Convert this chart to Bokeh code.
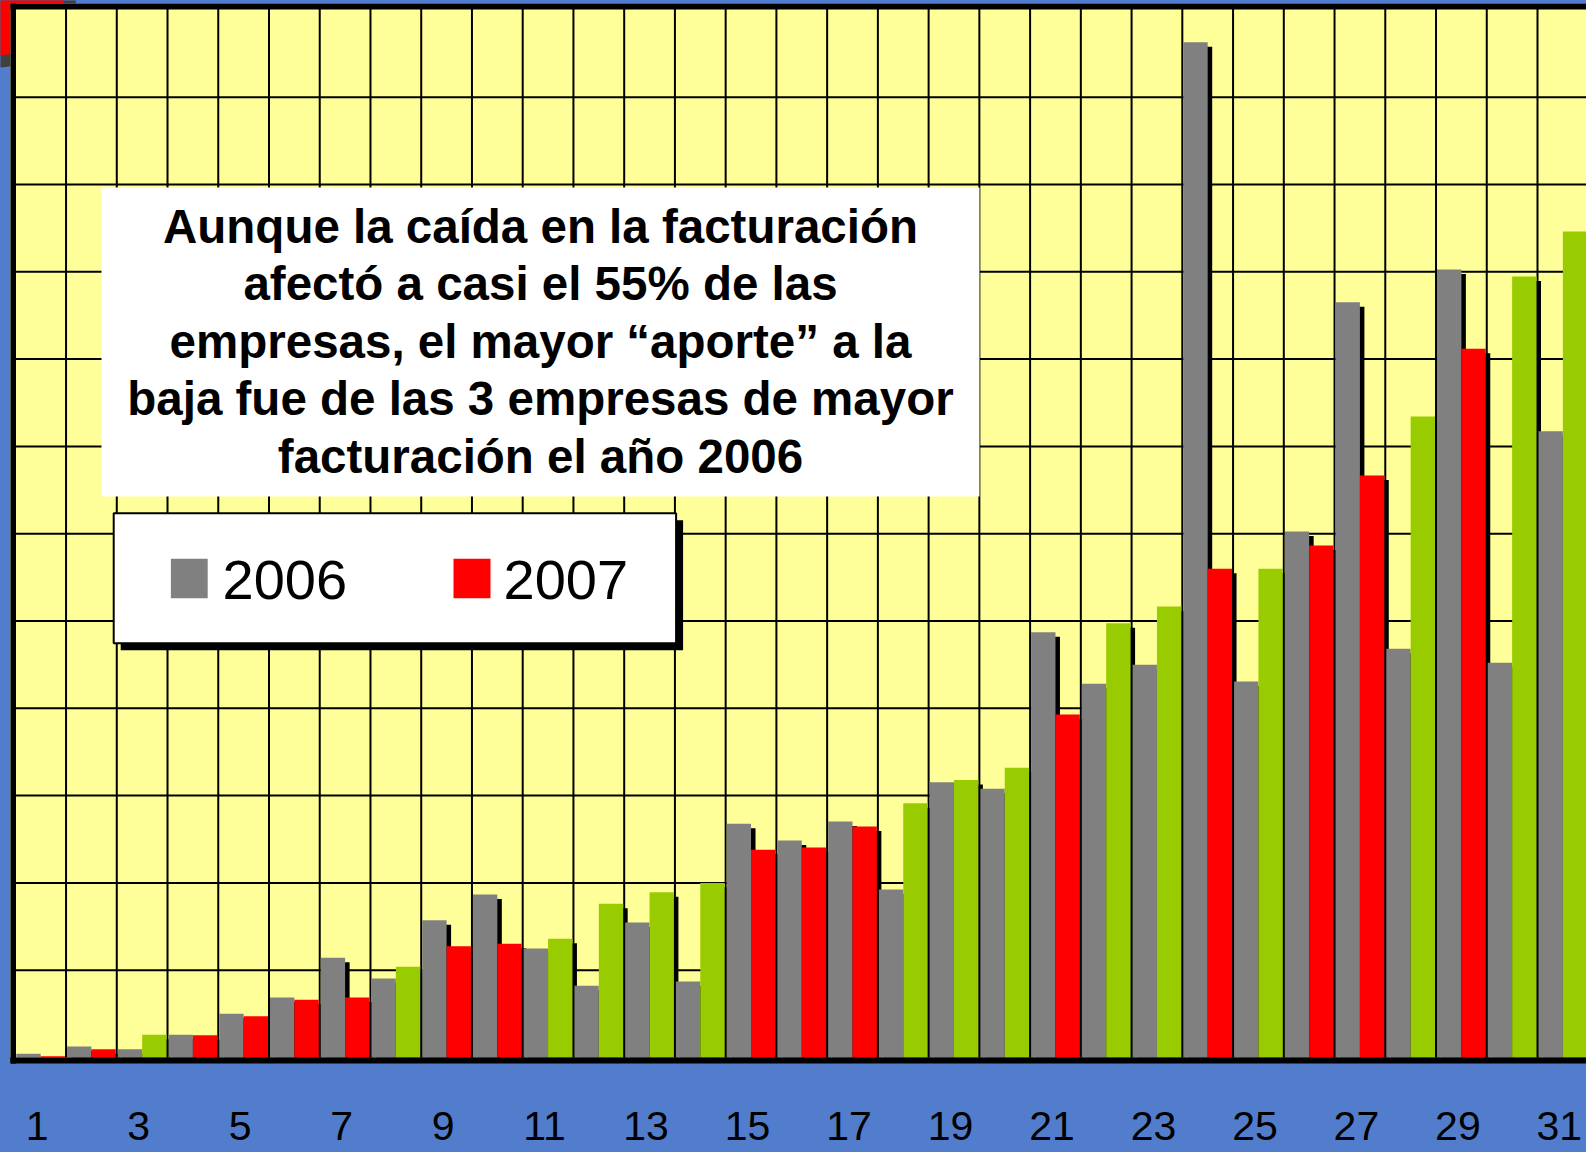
from bokeh.plotting import figure
from bokeh.models import Range1d
from bokeh.embed import file_html
from bokeh.resources import INLINE
from bokeh.core.properties import value

# ---------------- data ----------------
empresas = list(range(1, 32))
ventas_2006 = [0.42, 1.26, 0.95, 2.6, 5.0, 6.87, 11.42, 9.05, 15.73, 18.67, 12.49,
               8.21, 15.46, 8.7, 26.77, 24.86, 27.03, 19.24, 31.53, 30.78, 48.72,
               42.8, 44.98, 116.3, 43.07, 60.25, 86.52, 46.82, 90.26, 45.21, 71.74]
ventas_2007 = [0.15, 0.95, 2.6, 2.55, 4.73, 6.61, 6.87, 10.39, 12.75, 13.02, 13.6,
               17.6, 18.93, 20.0, 23.79, 24.05, 26.46, 29.13, 31.8, 33.18, 39.29,
               49.75, 51.66, 55.98, 55.98, 58.65, 66.67, 73.43, 81.18, 89.46, 94.62]
etiquetas_x = [str(k) for k in range(1, 32, 2)]
rejilla_y = list(range(10, 120, 10))
series = ["2006", "2007"]
titulo = ["Aunque la caída en la facturación",
          "afectó a casi el 55% de las",
          "empresas, el mayor “aporte” a la",
          "baja fue de las 3 empresas de mayor",
          "facturación el año 2006"]

# ---------------- style ----------------
BLUE = "#527DCD"
YELLOW = "#FFFF99"
GRAY = "#808080"
RED = "#FF0000"
GREEN = "#99CC00"
FONT = value("Liberation Sans")
BASE_FIX = 0.37   # svg text baseline correction (em)

W, H = 1586, 1152
PX_X = 50.74      # px per category
X0_PX = 14.8      # px of x = 0.5
PX_Y = 8.73       # px per value unit
Y0_PX = 1057      # px of y = 0

x_start = 0.5 - X0_PX / PX_X
x_end = x_start + W / PX_X
y_top = Y0_PX / PX_Y
y_bottom = -(H - Y0_PX) / PX_Y


def fx(px):
    return x_start + px / PX_X


def fy(py):
    return (Y0_PX - py) / PX_Y


def fb(py, size):
    return fy(py - BASE_FIX * size)


p = figure(width=W, height=H, x_range=Range1d(x_start, x_end),
           y_range=Range1d(y_bottom, y_top), output_backend="svg",
           toolbar_location=None, min_border=0, x_axis_location=None,
           y_axis_location=None, background_fill_color=BLUE,
           border_fill_color=BLUE, outline_line_color=None)
p.grid.visible = False

# partially hidden logo at the top-left corner
p.scatter(x=[fx(-5)], y=[fy(-15)], size=164, marker="circle", fill_color="#404040", line_color=None)
p.scatter(x=[fx(-5)], y=[fy(-15)], size=140, marker="circle", fill_color="#FF0000", line_color=None)

# plot area
p.quad(left=fx(10), right=x_end, bottom=0, top=fy(3), fill_color=YELLOW, line_color=None)

# grid
vx = [k + 0.5 for k in empresas[:-1]]
p.segment(x0=vx, y0=[0] * len(vx), x1=vx, y1=[fy(6)] * len(vx), line_color="black", line_width=2)
p.segment(x0=[0.5] * len(rejilla_y), y0=rejilla_y, x1=[x_end] * len(rejilla_y), y1=rejilla_y,
          line_color="black", line_width=2)

# bars
gap = 1.0 / PX_X
dx = 4.5 / PX_X
dy = 4.5 / PX_Y
g_left = [k - 0.5 + gap for k in empresas]
g_right = [k for k in empresas]
c_left = [k for k in empresas]
c_right = [k + 0.5 - gap for k in empresas]
colores_2007 = [GREEN if b > a else RED for a, b in zip(ventas_2006, ventas_2007)]

# shadows
p.quad(left=[v + dx for v in g_left], right=[v + dx for v in g_right], bottom=0,
       top=[max(v - dy, 0) for v in ventas_2006], fill_color="black", line_color=None)
p.quad(left=[v + dx for v in c_left], right=[v + dx for v in c_right], bottom=0,
       top=[max(v - dy, 0) for v in ventas_2007], fill_color="black", line_color=None)

p.quad(left=g_left, right=g_right, bottom=0, top=ventas_2006, fill_color=GRAY, line_color=None)
p.quad(left=c_left, right=c_right, bottom=0, top=ventas_2007, fill_color=colores_2007, line_color=None)

# frame borders
p.quad(left=fx(10), right=fx(15.5), bottom=fy(1063), top=fy(3), fill_color="black", line_color=None)
p.quad(left=fx(10), right=x_end, bottom=fy(9), top=fy(3), fill_color="black", line_color=None)
p.quad(left=fx(10), right=x_end, bottom=fy(1063), top=0, fill_color="black", line_color=None)

# x labels
p.text(x=[int(t) for t in etiquetas_x], y=[fb(1141, 41)] * len(etiquetas_x), text=etiquetas_x,
       x_offset=-3.5, text_font=FONT, text_font_size="41px", text_align="center",
       text_baseline="alphabetic", text_color="black")

# title box
p.quad(left=fx(101), right=fx(979), top=fy(187), bottom=fy(496), fill_color="white", line_color=None)
p.text(x=[fx(540)] * len(titulo), y=[fb(243.3 + 57.5 * i, 47.5) for i in range(len(titulo))],
       text=titulo, text_font=FONT, text_font_style="bold", text_font_size="47.5px",
       text_align="center", text_baseline="alphabetic", text_color="black")

# legend box
p.quad(left=fx(120.2), right=fx(682.6), top=fy(519.7), bottom=fy(649.7), fill_color="black", line_color=None)
p.quad(left=fx(113.2), right=fx(675.6), top=fy(512.7), bottom=fy(642.7), fill_color="white",
       line_color="black", line_width=2)
p.quad(left=[fx(170.4), fx(453)], right=[fx(207.2), fx(490)], top=fy(558.3), bottom=fy(597.7),
       fill_color=[GRAY, RED], line_color=None)
p.text(x=[fx(222), fx(503)], y=[fb(600, 56)] * 2, text=series, text_font=FONT,
       text_font_size="56px", text_align="left", text_baseline="alphabetic", text_color="black")

html = file_html(p, INLINE, title="Facturación 2006 - 2007")
html = html.replace("</head>",
                    "<style>html,body{margin:0;padding:0;background:%s;overflow:hidden;}</style></head>" % BLUE, 1)
open("out.html", "w").write(html)
